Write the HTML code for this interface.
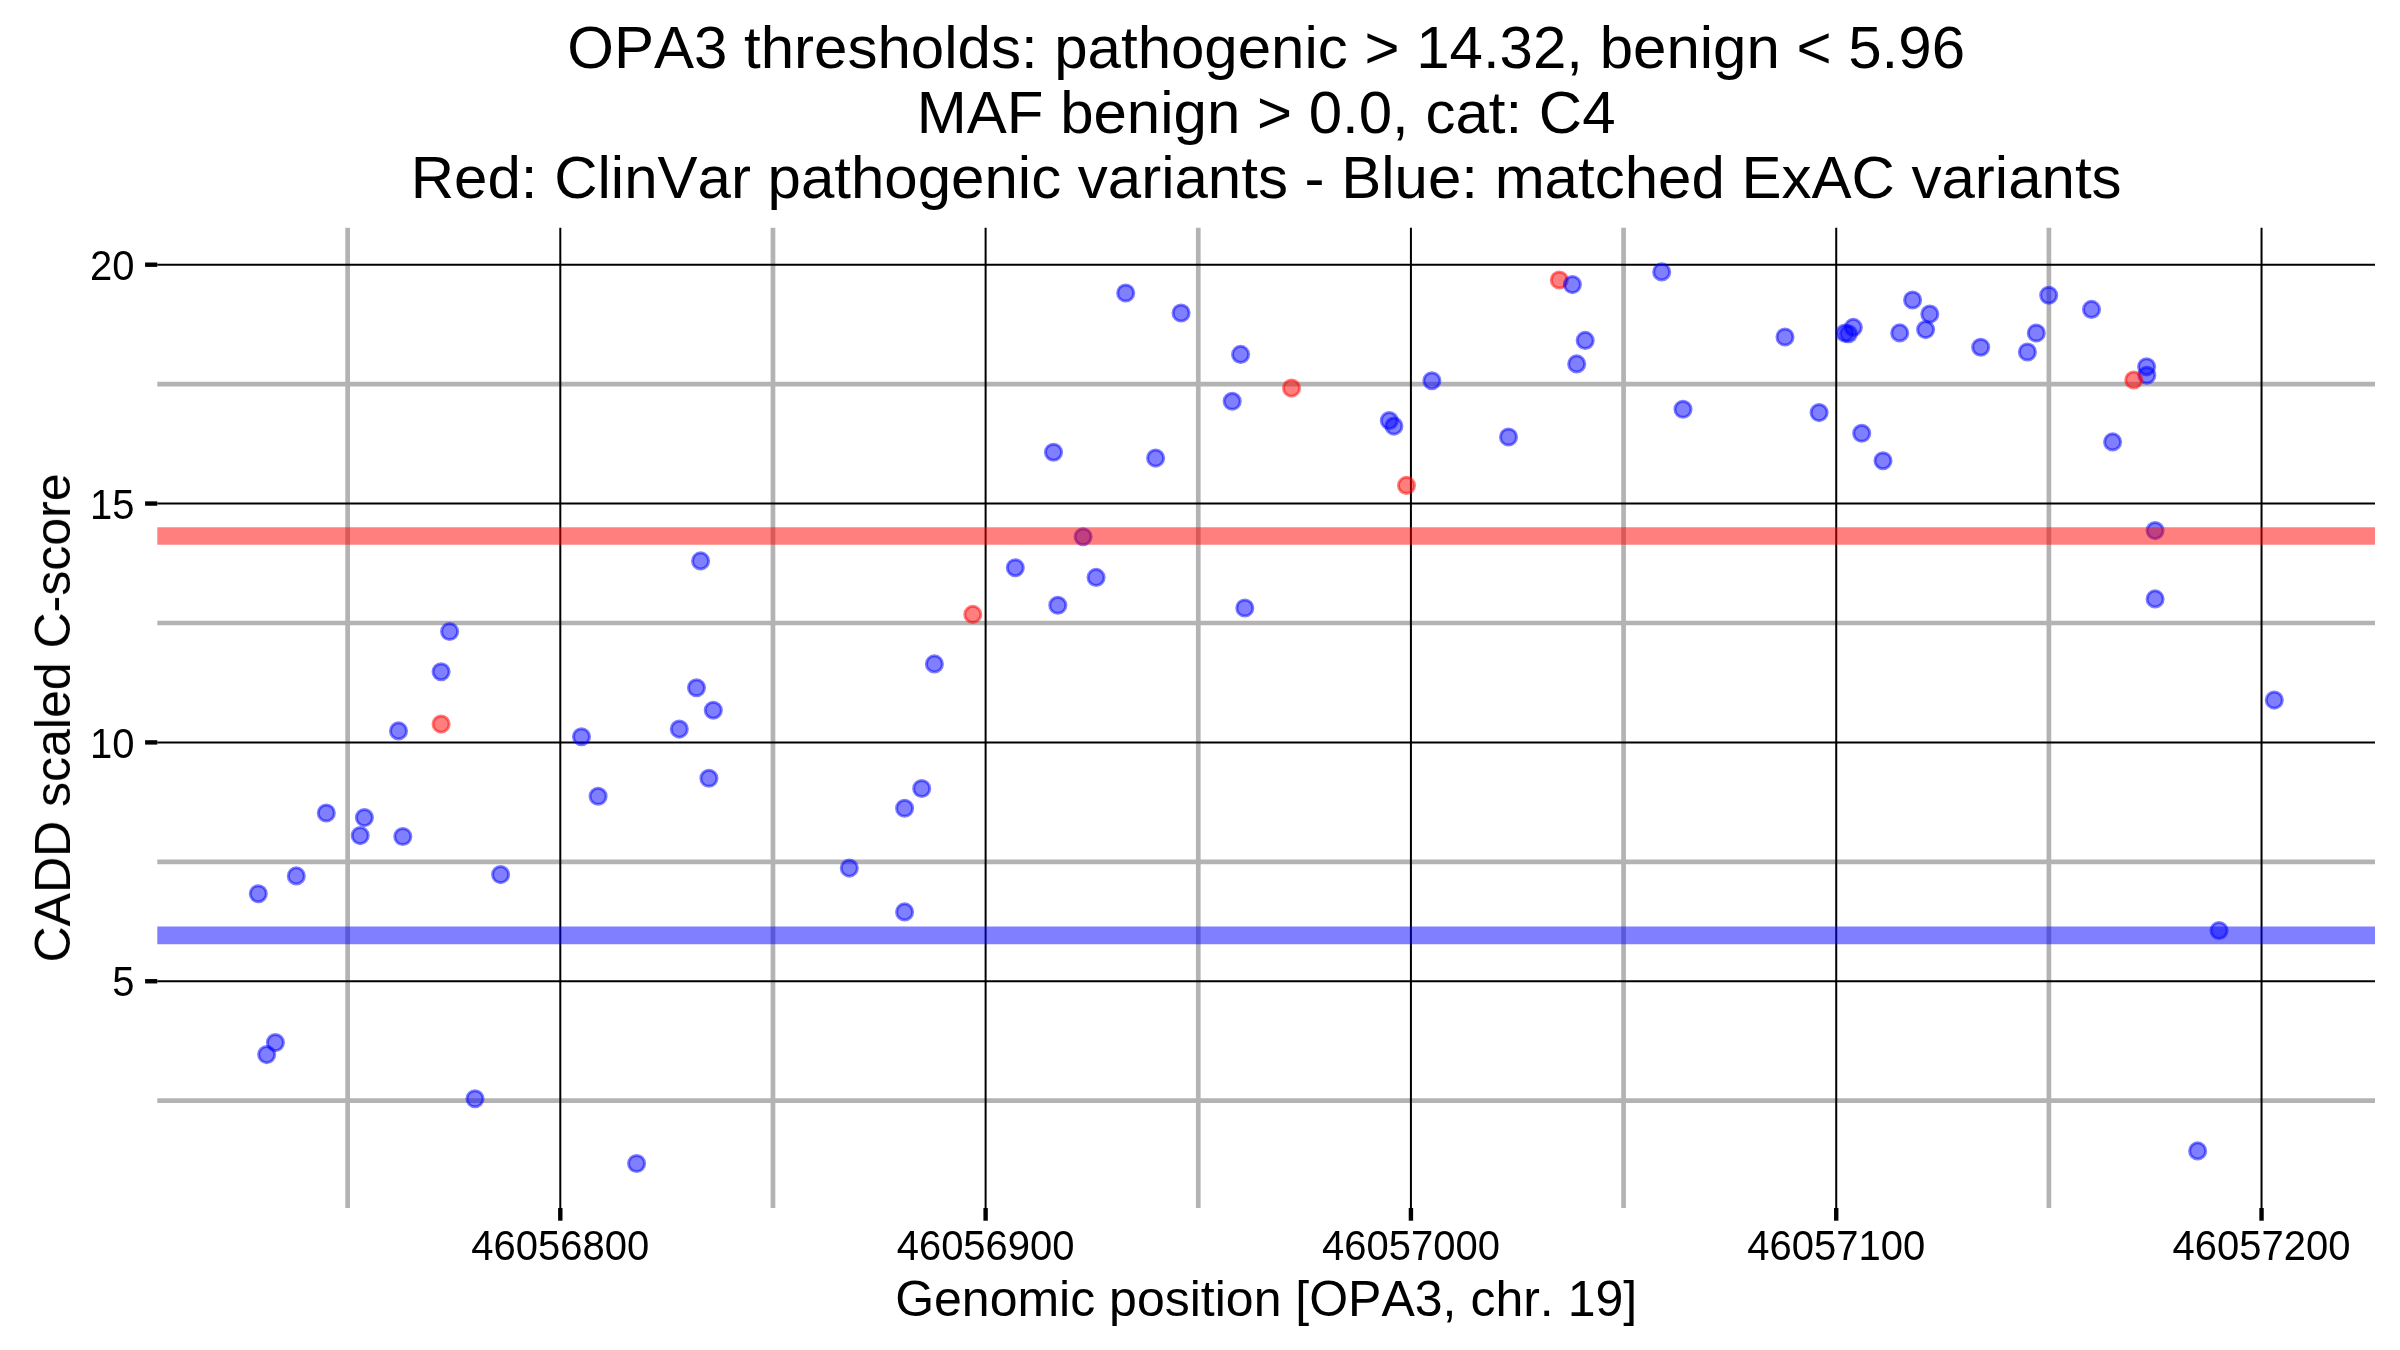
<!DOCTYPE html>
<html><head><meta charset="utf-8"><title>OPA3 thresholds</title>
<style>html,body{margin:0;padding:0;background:#fff;width:2400px;height:1350px;overflow:hidden}svg{display:block}text{font-family:"Liberation Sans",sans-serif;fill:#000;font-kerning:none;will-change:transform}</style></head><body>
<svg width="2400" height="1350" viewBox="0 0 2400 1350">
<rect width="2400" height="1350" fill="#fff"/>
<g stroke="#B3B3B3" stroke-width="4.7" fill="none">
<line x1="347.65" y1="227.8" x2="347.65" y2="1208.0"/>
<line x1="772.96" y1="227.8" x2="772.96" y2="1208.0"/>
<line x1="1198.27" y1="227.8" x2="1198.27" y2="1208.0"/>
<line x1="1623.58" y1="227.8" x2="1623.58" y2="1208.0"/>
<line x1="2048.89" y1="227.8" x2="2048.89" y2="1208.0"/>
<line x1="157.3" y1="1100.67" x2="2375.0" y2="1100.67"/>
<line x1="157.3" y1="861.83" x2="2375.0" y2="861.83"/>
<line x1="157.3" y1="622.98" x2="2375.0" y2="622.98"/>
<line x1="157.3" y1="384.12" x2="2375.0" y2="384.12"/>
</g>
<g stroke="#000" stroke-width="2" fill="none">
<line x1="560.30" y1="227.8" x2="560.30" y2="1208.0"/>
<line x1="985.61" y1="227.8" x2="985.61" y2="1208.0"/>
<line x1="1410.92" y1="227.8" x2="1410.92" y2="1208.0"/>
<line x1="1836.23" y1="227.8" x2="1836.23" y2="1208.0"/>
<line x1="2261.54" y1="227.8" x2="2261.54" y2="1208.0"/>
<line x1="157.3" y1="981.25" x2="2375.0" y2="981.25"/>
<line x1="157.3" y1="742.40" x2="2375.0" y2="742.40"/>
<line x1="157.3" y1="503.55" x2="2375.0" y2="503.55"/>
<line x1="157.3" y1="264.70" x2="2375.0" y2="264.70"/>
</g>
<circle cx="1559.3" cy="280.0" r="8.05" fill="#FF0000" fill-opacity="0.5" stroke="#FF0000" stroke-opacity="0.5" stroke-width="3.0"/>
<circle cx="258.3" cy="893.7" r="8.05" fill="#0000FF" fill-opacity="0.5" stroke="#0000FF" stroke-opacity="0.5" stroke-width="3.0"/>
<circle cx="266.7" cy="1054.6" r="8.05" fill="#0000FF" fill-opacity="0.5" stroke="#0000FF" stroke-opacity="0.5" stroke-width="3.0"/>
<circle cx="275.4" cy="1042.6" r="8.05" fill="#0000FF" fill-opacity="0.5" stroke="#0000FF" stroke-opacity="0.5" stroke-width="3.0"/>
<circle cx="296.3" cy="875.9" r="8.05" fill="#0000FF" fill-opacity="0.5" stroke="#0000FF" stroke-opacity="0.5" stroke-width="3.0"/>
<circle cx="326.3" cy="813.0" r="8.05" fill="#0000FF" fill-opacity="0.5" stroke="#0000FF" stroke-opacity="0.5" stroke-width="3.0"/>
<circle cx="360.2" cy="835.6" r="8.05" fill="#0000FF" fill-opacity="0.5" stroke="#0000FF" stroke-opacity="0.5" stroke-width="3.0"/>
<circle cx="364.4" cy="817.6" r="8.05" fill="#0000FF" fill-opacity="0.5" stroke="#0000FF" stroke-opacity="0.5" stroke-width="3.0"/>
<circle cx="398.5" cy="730.9" r="8.05" fill="#0000FF" fill-opacity="0.5" stroke="#0000FF" stroke-opacity="0.5" stroke-width="3.0"/>
<circle cx="402.8" cy="836.5" r="8.05" fill="#0000FF" fill-opacity="0.5" stroke="#0000FF" stroke-opacity="0.5" stroke-width="3.0"/>
<circle cx="441.1" cy="671.7" r="8.05" fill="#0000FF" fill-opacity="0.5" stroke="#0000FF" stroke-opacity="0.5" stroke-width="3.0"/>
<circle cx="449.6" cy="631.5" r="8.05" fill="#0000FF" fill-opacity="0.5" stroke="#0000FF" stroke-opacity="0.5" stroke-width="3.0"/>
<circle cx="475.0" cy="1098.75" r="8.05" fill="#0000FF" fill-opacity="0.5" stroke="#0000FF" stroke-opacity="0.5" stroke-width="3.0"/>
<circle cx="500.6" cy="874.6" r="8.05" fill="#0000FF" fill-opacity="0.5" stroke="#0000FF" stroke-opacity="0.5" stroke-width="3.0"/>
<circle cx="581.5" cy="736.7" r="8.05" fill="#0000FF" fill-opacity="0.5" stroke="#0000FF" stroke-opacity="0.5" stroke-width="3.0"/>
<circle cx="598.1" cy="796.3" r="8.05" fill="#0000FF" fill-opacity="0.5" stroke="#0000FF" stroke-opacity="0.5" stroke-width="3.0"/>
<circle cx="636.6" cy="1163.5" r="8.05" fill="#0000FF" fill-opacity="0.5" stroke="#0000FF" stroke-opacity="0.5" stroke-width="3.0"/>
<circle cx="679.3" cy="729.1" r="8.05" fill="#0000FF" fill-opacity="0.5" stroke="#0000FF" stroke-opacity="0.5" stroke-width="3.0"/>
<circle cx="696.5" cy="687.8" r="8.05" fill="#0000FF" fill-opacity="0.5" stroke="#0000FF" stroke-opacity="0.5" stroke-width="3.0"/>
<circle cx="700.6" cy="560.9" r="8.05" fill="#0000FF" fill-opacity="0.5" stroke="#0000FF" stroke-opacity="0.5" stroke-width="3.0"/>
<circle cx="708.9" cy="778.3" r="8.05" fill="#0000FF" fill-opacity="0.5" stroke="#0000FF" stroke-opacity="0.5" stroke-width="3.0"/>
<circle cx="713.3" cy="710.2" r="8.05" fill="#0000FF" fill-opacity="0.5" stroke="#0000FF" stroke-opacity="0.5" stroke-width="3.0"/>
<circle cx="849.3" cy="868.1" r="8.05" fill="#0000FF" fill-opacity="0.5" stroke="#0000FF" stroke-opacity="0.5" stroke-width="3.0"/>
<circle cx="904.6" cy="808.3" r="8.05" fill="#0000FF" fill-opacity="0.5" stroke="#0000FF" stroke-opacity="0.5" stroke-width="3.0"/>
<circle cx="904.6" cy="911.9" r="8.05" fill="#0000FF" fill-opacity="0.5" stroke="#0000FF" stroke-opacity="0.5" stroke-width="3.0"/>
<circle cx="921.7" cy="788.5" r="8.05" fill="#0000FF" fill-opacity="0.5" stroke="#0000FF" stroke-opacity="0.5" stroke-width="3.0"/>
<circle cx="934.4" cy="663.9" r="8.05" fill="#0000FF" fill-opacity="0.5" stroke="#0000FF" stroke-opacity="0.5" stroke-width="3.0"/>
<circle cx="1015.3" cy="567.7" r="8.05" fill="#0000FF" fill-opacity="0.5" stroke="#0000FF" stroke-opacity="0.5" stroke-width="3.0"/>
<circle cx="1053.5" cy="452.2" r="8.05" fill="#0000FF" fill-opacity="0.5" stroke="#0000FF" stroke-opacity="0.5" stroke-width="3.0"/>
<circle cx="1057.8" cy="605.3" r="8.05" fill="#0000FF" fill-opacity="0.5" stroke="#0000FF" stroke-opacity="0.5" stroke-width="3.0"/>
<circle cx="1083.1" cy="536.7" r="8.05" fill="#0000FF" fill-opacity="0.5" stroke="#0000FF" stroke-opacity="0.5" stroke-width="3.0"/>
<circle cx="1096.1" cy="577.4" r="8.05" fill="#0000FF" fill-opacity="0.5" stroke="#0000FF" stroke-opacity="0.5" stroke-width="3.0"/>
<circle cx="1125.7" cy="293.0" r="8.05" fill="#0000FF" fill-opacity="0.5" stroke="#0000FF" stroke-opacity="0.5" stroke-width="3.0"/>
<circle cx="1155.6" cy="458.1" r="8.05" fill="#0000FF" fill-opacity="0.5" stroke="#0000FF" stroke-opacity="0.5" stroke-width="3.0"/>
<circle cx="1181.1" cy="313.0" r="8.05" fill="#0000FF" fill-opacity="0.5" stroke="#0000FF" stroke-opacity="0.5" stroke-width="3.0"/>
<circle cx="1232.2" cy="401.3" r="8.05" fill="#0000FF" fill-opacity="0.5" stroke="#0000FF" stroke-opacity="0.5" stroke-width="3.0"/>
<circle cx="1240.6" cy="354.4" r="8.05" fill="#0000FF" fill-opacity="0.5" stroke="#0000FF" stroke-opacity="0.5" stroke-width="3.0"/>
<circle cx="1244.8" cy="608.0" r="8.05" fill="#0000FF" fill-opacity="0.5" stroke="#0000FF" stroke-opacity="0.5" stroke-width="3.0"/>
<circle cx="1389.3" cy="420.6" r="8.05" fill="#0000FF" fill-opacity="0.5" stroke="#0000FF" stroke-opacity="0.5" stroke-width="3.0"/>
<circle cx="1393.9" cy="426.1" r="8.05" fill="#0000FF" fill-opacity="0.5" stroke="#0000FF" stroke-opacity="0.5" stroke-width="3.0"/>
<circle cx="1431.9" cy="380.7" r="8.05" fill="#0000FF" fill-opacity="0.5" stroke="#0000FF" stroke-opacity="0.5" stroke-width="3.0"/>
<circle cx="1508.5" cy="437.0" r="8.05" fill="#0000FF" fill-opacity="0.5" stroke="#0000FF" stroke-opacity="0.5" stroke-width="3.0"/>
<circle cx="1572.4" cy="284.6" r="8.05" fill="#0000FF" fill-opacity="0.5" stroke="#0000FF" stroke-opacity="0.5" stroke-width="3.0"/>
<circle cx="1576.7" cy="363.9" r="8.05" fill="#0000FF" fill-opacity="0.5" stroke="#0000FF" stroke-opacity="0.5" stroke-width="3.0"/>
<circle cx="1585.2" cy="340.4" r="8.05" fill="#0000FF" fill-opacity="0.5" stroke="#0000FF" stroke-opacity="0.5" stroke-width="3.0"/>
<circle cx="1661.7" cy="271.9" r="8.05" fill="#0000FF" fill-opacity="0.5" stroke="#0000FF" stroke-opacity="0.5" stroke-width="3.0"/>
<circle cx="1683.0" cy="409.3" r="8.05" fill="#0000FF" fill-opacity="0.5" stroke="#0000FF" stroke-opacity="0.5" stroke-width="3.0"/>
<circle cx="1785.0" cy="337.0" r="8.05" fill="#0000FF" fill-opacity="0.5" stroke="#0000FF" stroke-opacity="0.5" stroke-width="3.0"/>
<circle cx="1819.1" cy="412.6" r="8.05" fill="#0000FF" fill-opacity="0.5" stroke="#0000FF" stroke-opacity="0.5" stroke-width="3.0"/>
<circle cx="1844.9" cy="333.1" r="8.05" fill="#0000FF" fill-opacity="0.5" stroke="#0000FF" stroke-opacity="0.5" stroke-width="3.0"/>
<circle cx="1848.5" cy="333.7" r="8.05" fill="#0000FF" fill-opacity="0.5" stroke="#0000FF" stroke-opacity="0.5" stroke-width="3.0"/>
<circle cx="1853.3" cy="327.4" r="8.05" fill="#0000FF" fill-opacity="0.5" stroke="#0000FF" stroke-opacity="0.5" stroke-width="3.0"/>
<circle cx="1861.7" cy="433.3" r="8.05" fill="#0000FF" fill-opacity="0.5" stroke="#0000FF" stroke-opacity="0.5" stroke-width="3.0"/>
<circle cx="1883.0" cy="460.7" r="8.05" fill="#0000FF" fill-opacity="0.5" stroke="#0000FF" stroke-opacity="0.5" stroke-width="3.0"/>
<circle cx="1899.7" cy="332.9" r="8.05" fill="#0000FF" fill-opacity="0.5" stroke="#0000FF" stroke-opacity="0.5" stroke-width="3.0"/>
<circle cx="1912.6" cy="300.0" r="8.05" fill="#0000FF" fill-opacity="0.5" stroke="#0000FF" stroke-opacity="0.5" stroke-width="3.0"/>
<circle cx="1925.6" cy="329.6" r="8.05" fill="#0000FF" fill-opacity="0.5" stroke="#0000FF" stroke-opacity="0.5" stroke-width="3.0"/>
<circle cx="1929.8" cy="314.1" r="8.05" fill="#0000FF" fill-opacity="0.5" stroke="#0000FF" stroke-opacity="0.5" stroke-width="3.0"/>
<circle cx="1980.7" cy="347.2" r="8.05" fill="#0000FF" fill-opacity="0.5" stroke="#0000FF" stroke-opacity="0.5" stroke-width="3.0"/>
<circle cx="2027.4" cy="352.0" r="8.05" fill="#0000FF" fill-opacity="0.5" stroke="#0000FF" stroke-opacity="0.5" stroke-width="3.0"/>
<circle cx="2036.3" cy="333.0" r="8.05" fill="#0000FF" fill-opacity="0.5" stroke="#0000FF" stroke-opacity="0.5" stroke-width="3.0"/>
<circle cx="2048.7" cy="295.2" r="8.05" fill="#0000FF" fill-opacity="0.5" stroke="#0000FF" stroke-opacity="0.5" stroke-width="3.0"/>
<circle cx="2091.5" cy="309.4" r="8.05" fill="#0000FF" fill-opacity="0.5" stroke="#0000FF" stroke-opacity="0.5" stroke-width="3.0"/>
<circle cx="2112.6" cy="441.9" r="8.05" fill="#0000FF" fill-opacity="0.5" stroke="#0000FF" stroke-opacity="0.5" stroke-width="3.0"/>
<circle cx="2146.6" cy="366.7" r="8.05" fill="#0000FF" fill-opacity="0.5" stroke="#0000FF" stroke-opacity="0.5" stroke-width="3.0"/>
<circle cx="2146.8" cy="375.2" r="8.05" fill="#0000FF" fill-opacity="0.5" stroke="#0000FF" stroke-opacity="0.5" stroke-width="3.0"/>
<circle cx="2155.1" cy="530.6" r="8.05" fill="#0000FF" fill-opacity="0.5" stroke="#0000FF" stroke-opacity="0.5" stroke-width="3.0"/>
<circle cx="2155.1" cy="598.9" r="8.05" fill="#0000FF" fill-opacity="0.5" stroke="#0000FF" stroke-opacity="0.5" stroke-width="3.0"/>
<circle cx="2197.65" cy="1150.9" r="8.05" fill="#0000FF" fill-opacity="0.5" stroke="#0000FF" stroke-opacity="0.5" stroke-width="3.0"/>
<circle cx="2219.05" cy="930.5" r="8.05" fill="#0000FF" fill-opacity="0.5" stroke="#0000FF" stroke-opacity="0.5" stroke-width="3.0"/>
<circle cx="2274.3" cy="700.1" r="8.05" fill="#0000FF" fill-opacity="0.5" stroke="#0000FF" stroke-opacity="0.5" stroke-width="3.0"/>
<circle cx="441.1" cy="724.1" r="8.05" fill="#FF0000" fill-opacity="0.5" stroke="#FF0000" stroke-opacity="0.5" stroke-width="3.0"/>
<circle cx="972.8" cy="614.4" r="8.05" fill="#FF0000" fill-opacity="0.5" stroke="#FF0000" stroke-opacity="0.5" stroke-width="3.0"/>
<circle cx="1291.5" cy="388.1" r="8.05" fill="#FF0000" fill-opacity="0.5" stroke="#FF0000" stroke-opacity="0.5" stroke-width="3.0"/>
<circle cx="1406.5" cy="485.4" r="8.05" fill="#FF0000" fill-opacity="0.5" stroke="#FF0000" stroke-opacity="0.5" stroke-width="3.0"/>
<circle cx="2133.75" cy="380.05" r="8.05" fill="#FF0000" fill-opacity="0.5" stroke="#FF0000" stroke-opacity="0.5" stroke-width="3.0"/>
<line x1="157.3" y1="536.03" x2="2375.0" y2="536.03" stroke="#FF0000" stroke-opacity="0.5" stroke-width="17.6"/>
<line x1="157.3" y1="935.39" x2="2375.0" y2="935.39" stroke="#0000FF" stroke-opacity="0.5" stroke-width="17.6"/>
<g stroke="#000" stroke-width="4.4" fill="none">
<line x1="145.1" y1="981.25" x2="157.3" y2="981.25"/>
<line x1="145.1" y1="742.40" x2="157.3" y2="742.40"/>
<line x1="145.1" y1="503.55" x2="157.3" y2="503.55"/>
<line x1="145.1" y1="264.70" x2="157.3" y2="264.70"/>
<line x1="560.30" y1="1208.0" x2="560.30" y2="1220.7"/>
<line x1="985.61" y1="1208.0" x2="985.61" y2="1220.7"/>
<line x1="1410.92" y1="1208.0" x2="1410.92" y2="1220.7"/>
<line x1="1836.23" y1="1208.0" x2="1836.23" y2="1220.7"/>
<line x1="2261.54" y1="1208.0" x2="2261.54" y2="1220.7"/>
</g>
<text transform="translate(134.50,996.40) scale(1,1.043)" font-size="40" text-anchor="end">5</text>
<text transform="translate(134.50,757.55) scale(1,1.043)" font-size="40" text-anchor="end">10</text>
<text transform="translate(134.50,518.70) scale(1,1.043)" font-size="40" text-anchor="end">15</text>
<text transform="translate(134.50,279.85) scale(1,1.043)" font-size="40" text-anchor="end">20</text>
<text transform="translate(560.30,1259.80) scale(1,1.043)" font-size="40" text-anchor="middle">46056800</text>
<text transform="translate(985.61,1259.80) scale(1,1.043)" font-size="40" text-anchor="middle">46056900</text>
<text transform="translate(1410.92,1259.80) scale(1,1.043)" font-size="40" text-anchor="middle">46057000</text>
<text transform="translate(1836.23,1259.80) scale(1,1.043)" font-size="40" text-anchor="middle">46057100</text>
<text transform="translate(2261.54,1259.80) scale(1,1.043)" font-size="40" text-anchor="middle">46057200</text>
<text transform="translate(1266.15,67.80) scale(1,1.0)" font-size="60" text-anchor="middle">OPA3 thresholds: pathogenic &gt; 14.32, benign &lt; 5.96</text>
<text transform="translate(1266.15,132.90) scale(1,1.0)" font-size="60" text-anchor="middle">MAF benign &gt; 0.0, cat: C4</text>
<text transform="translate(1266.15,197.90) scale(1,1.0)" font-size="60" text-anchor="middle">Red: ClinVar pathogenic variants - Blue: matched ExAC variants</text>
<text transform="translate(1266.15,1316.00) scale(1,1.0)" font-size="50" text-anchor="middle">Genomic position [OPA3, chr. 19]</text>
<text transform="translate(70,717.90) rotate(-90)" font-size="50" text-anchor="middle">CADD scaled C-score</text>
</svg>
</body></html>
